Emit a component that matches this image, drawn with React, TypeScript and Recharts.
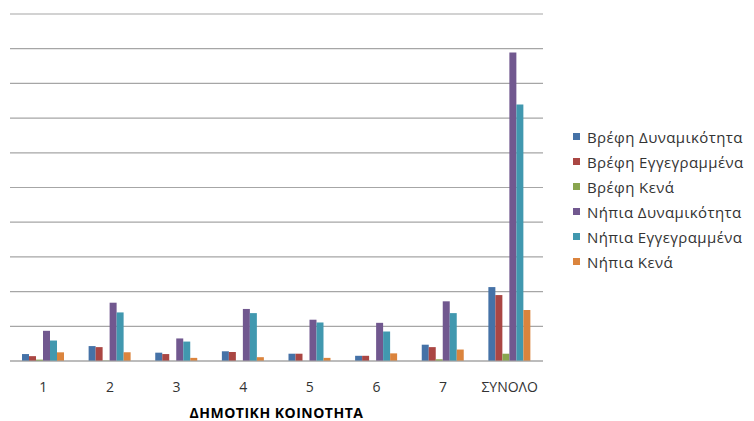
import { BarChart, Bar, XAxis, YAxis, CartesianGrid } from "recharts";

const categories = ["1", "2", "3", "4", "5", "6", "7", "ΣΥΝΟΛΟ"];

const vrefiDynamikotita = [20, 43, 24, 28, 21, 15, 47, 213];
const vrefiEggegrammena = [14, 40, 20, 26, 21, 15, 40, 190];
const vrefiKena = [4, 1, 0, 0, 0, 0, 5, 21];
const nipiaDynamikotita = [87, 168, 65, 150, 119, 110, 172, 889];
const nipiaEggegrammena = [59, 140, 56, 138, 111, 85, 138, 739];
const nipiaKena = [25, 25, 9, 11, 9, 22, 33, 147];

const yTicks = [0, 100, 200, 300, 400, 500, 600, 700, 800, 900, 1000];

const series = [
  { key: "vd", name: "Βρέφη Δυναμικότητα", color: "#4572A7", values: vrefiDynamikotita },
  { key: "ve", name: "Βρέφη Εγγεγραμμένα", color: "#AA4643", values: vrefiEggegrammena },
  { key: "vk", name: "Βρέφη Κενά", color: "#89A54E", values: vrefiKena },
  { key: "nd", name: "Νήπια Δυναμικότητα", color: "#71588F", values: nipiaDynamikotita },
  { key: "ne", name: "Νήπια Εγγεγραμμένα", color: "#4198AF", values: nipiaEggegrammena },
  { key: "nk", name: "Νήπια Κενά", color: "#DB843D", values: nipiaKena },
];

const data = categories.map((c, i) => {
  const row: any = { name: c };
  series.forEach((s) => {
    row[s.key] = s.values[i];
  });
  return row;
});

const FONT = "'Open Sans', 'DejaVu Sans', sans-serif";

function LegendBox() {
  return (
    <div
      style={{
        position: "absolute",
        left: 573,
        top: 124,
        fontFamily: FONT,
        fontSize: 15,
        letterSpacing: 0.4,
        color: "#333",
      }}
    >
      {series.map((s) => (
        <div key={s.key} style={{ display: "flex", alignItems: "center", height: 25, whiteSpace: "nowrap" }}>
          <span style={{ display: "inline-block", width: 7, height: 7, background: s.color, marginRight: 7 }} />
          {s.name}
        </div>
      ))}
    </div>
  );
}

function Tick(props: any) {
  const { x, y, payload } = props;
  return (
    <text x={x} y={y + 23} textAnchor="middle" fontFamily={FONT} fontSize={14} fill="#333">
      {payload.value}
    </text>
  );
}

export default function App() {
  return (
    <div style={{ position: "absolute", left: 0, top: 0, width: 754, height: 421, background: "#fff" }}>
      <BarChart
        width={754}
        height={421}
        data={data}
        margin={{ top: 14, right: 211, bottom: 0, left: 10 }}
        barCategoryGap="18%"
        barGap={0}
      >
        <CartesianGrid vertical={false} stroke="#a6a6a6" strokeWidth={1.2} />
        <YAxis hide domain={[0, 1000]} ticks={yTicks} width={0} />
        <XAxis
          dataKey="name"
          height={60}
          tickLine={false}
          axisLine={{ stroke: "#a6a6a6", strokeWidth: 1.2 }}
          tick={<Tick />}
          interval={0}
          label={{
            value: "ΔΗΜΟΤΙΚΗ ΚΟΙΝΟΤΗΤΑ",
            position: "insideBottom",
            offset: 3,
            style: { fontFamily: FONT, fontSize: 14, fontWeight: 700, fill: "#000", letterSpacing: 0.5 },
          }}
        />
        {series.map((s) => (
          <Bar key={s.key} dataKey={s.key} name={s.name} fill={s.color} isAnimationActive={false} />
        ))}
      </BarChart>
      <LegendBox />
    </div>
  );
}
